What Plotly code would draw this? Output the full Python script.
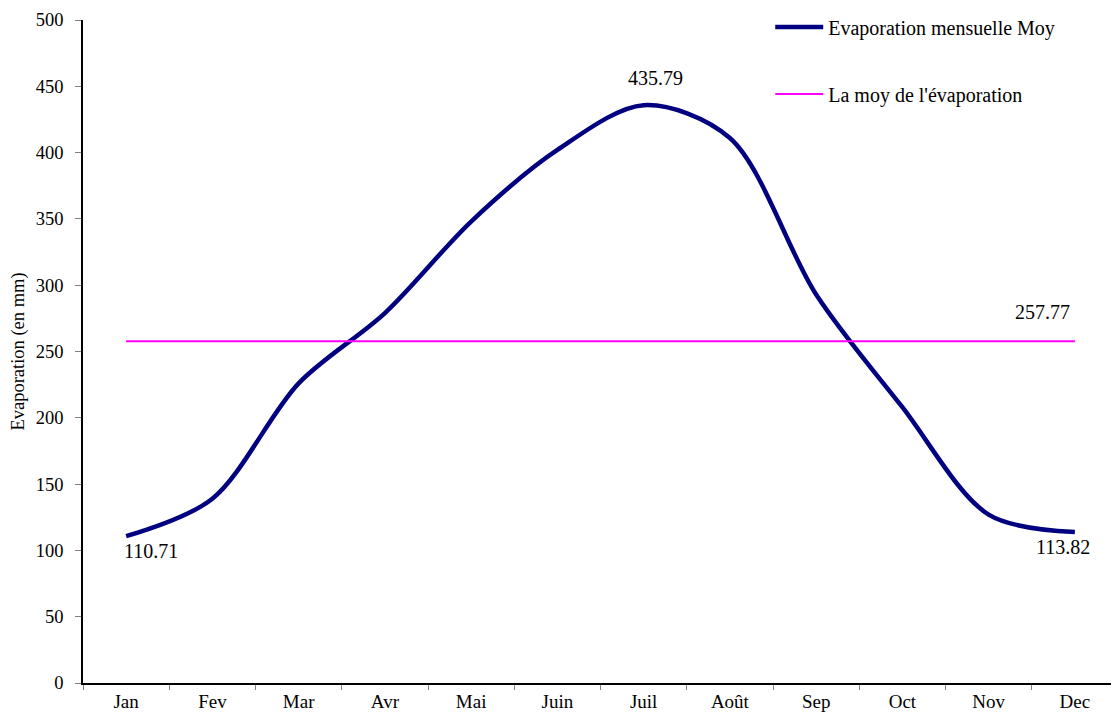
import plotly.graph_objects as go

months = ["Jan", "Fev", "Mar", "Avr", "Mai", "Juin", "Juil", "Août", "Sep", "Oct", "Nov", "Dec"]
evap = [110.71, 139, 226, 279, 348, 402, 435.79, 411, 293, 208, 127, 113.82]
mean_val = 257.77
mean_line = [mean_val] * len(months)

FONT = "'Liberation Serif', 'Times New Roman', serif"

fig = go.Figure()
fig.add_trace(go.Scatter(
    x=months, y=evap, mode="lines", name="Evaporation mensuelle Moy",
    line=dict(color="#000080", width=4.5, shape="spline", smoothing=0.9),
    legendgroup="a",
))
fig.add_trace(go.Scatter(
    x=months, y=mean_line, mode="lines", name="La moy de l'évaporation",
    line=dict(color="#FF00FF", width=2),
    legendgroup="b",
))

ann_font = dict(family=FONT, size=20, color="black")
fig.add_annotation(x=months[0], y=evap[0], text=f"{evap[0]:.2f}", showarrow=False,
                   xref="x", yref="y", xanchor="center", yanchor="top",
                   xshift=25, yshift=-2, font=ann_font)
fig.add_annotation(x=months[6], y=evap[6], text=f"{evap[6]:.2f}", showarrow=False,
                   xref="x", yref="y", xanchor="center", yanchor="bottom",
                   xshift=12, yshift=14, font=ann_font)
fig.add_annotation(x=months[11], y=evap[11], text=f"{evap[11]:.2f}", showarrow=False,
                   xref="x", yref="y", xanchor="center", yanchor="top",
                   xshift=-12, yshift=-2, font=ann_font)
fig.add_annotation(x=months[11], y=mean_val, text=f"{mean_val:.2f}", showarrow=False,
                   xref="x", yref="y", xanchor="center", yanchor="bottom",
                   xshift=-32, yshift=16, font=ann_font)

fig.update_layout(
    width=1119, height=717,
    margin=dict(l=75, r=9, t=12, b=42, autoexpand=False),
    paper_bgcolor="white", plot_bgcolor="white",
    font=dict(family=FONT, size=18.7, color="black"),
    showlegend=True,
    legend=dict(x=0.664, y=1.019, xanchor="left", yanchor="top",
                font=dict(family=FONT, size=20), tracegroupgap=38,
                itemwidth=48, bgcolor="rgba(0,0,0,0)"),
    xaxis=dict(
        type="category", range=[-0.5, 11.5], tickson="boundaries",
        showline=True, linecolor="black", linewidth=1.5,
        ticks="outside", ticklen=5, tickcolor="#808080",
        showgrid=False, zeroline=False,
        tickfont=dict(family=FONT, size=19),
    ),
    yaxis=dict(
        range=[0, 500], dtick=50, tick0=0,
        showline=True, linecolor="black", linewidth=1.5,
        ticks="outside", ticklen=6, tickcolor="#808080",
        ticklabelstandoff=8,
        showgrid=False, zeroline=False,
        tickfont=dict(family=FONT, size=18.5),
        title=dict(text="Evaporation (en mm)", font=dict(family=FONT, size=18.5), standoff=6),
    ),
)

fig.write_html("out.html")
